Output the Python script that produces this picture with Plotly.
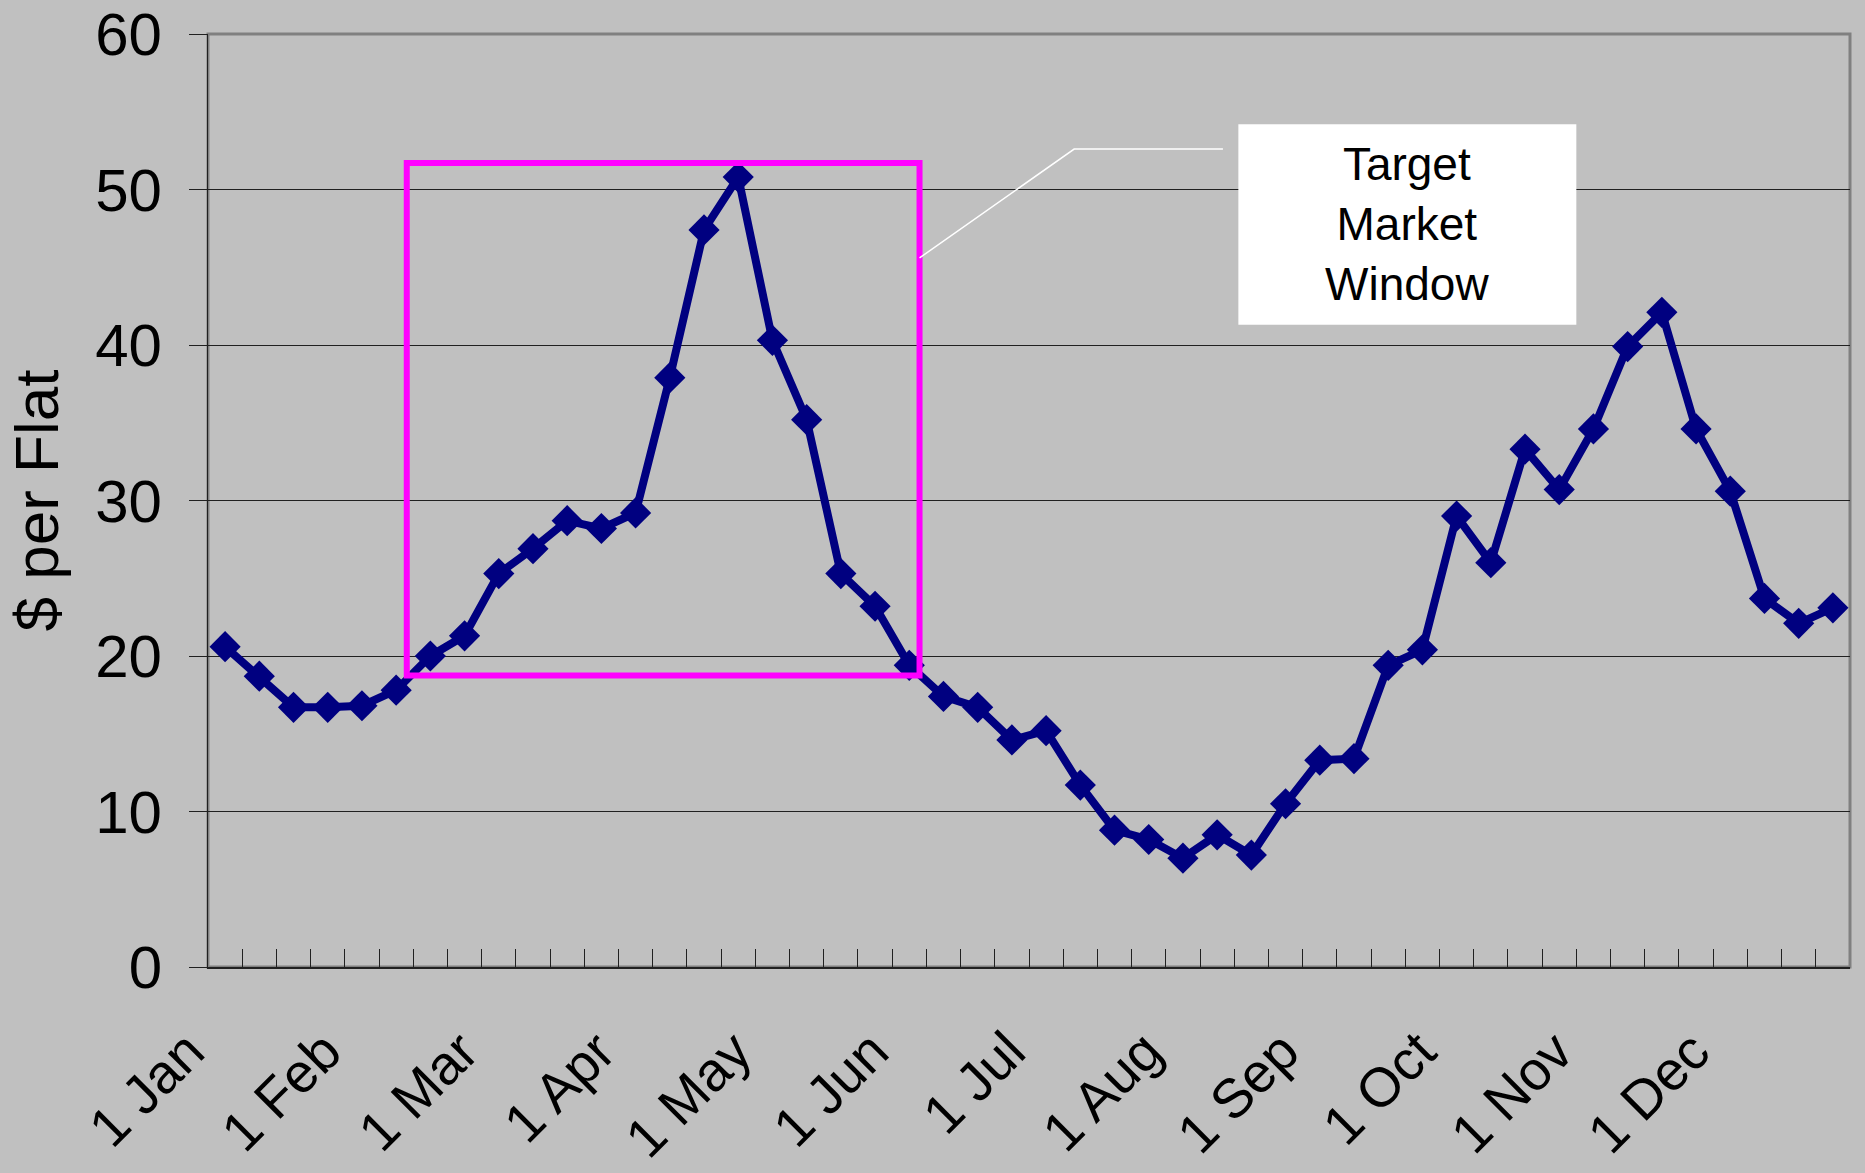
import plotly.graph_objects as go

# ---- data ----
month_labels = ["1 Jan", "1 Feb", "1 Mar", "1 Apr", "1 May", "1 Jun",
                "1 Jul", "1 Aug", "1 Sep", "1 Oct", "1 Nov", "1 Dec"]
weeks_per_month = 4
price = [20.6, 18.7, 16.7, 16.7, 16.8, 17.8, 20.0, 21.3,
         25.3, 26.9, 28.7, 28.2, 29.2, 37.9, 47.4, 50.8,
         40.3, 35.2, 25.3, 23.2, 19.4, 17.4, 16.7, 14.6,
         15.2, 11.7, 8.8, 8.2, 7.0, 8.5, 7.2, 10.5,
         13.3, 13.4, 19.4, 20.4, 29.0, 26.0, 33.3, 30.7,
         34.6, 39.9, 42.1, 34.6, 30.6, 23.7, 22.1, 23.1]
y_ticks = [0, 10, 20, 30, 40, 50, 60]
annotation_text = "Target<br>Market<br>Window"
y_title = "$ per Flat"

n = len(price)
xs = list(range(n))
boundaries = [i - 0.5 for i in range(n + 1)]
tick_text = [month_labels[i // weeks_per_month] if (i % weeks_per_month == 0 and i // weeks_per_month < len(month_labels)) else ""
             for i in range(n + 1)]

BG = "#C0C0C0"
NAVY = "#000080"
FONT = "Liberation Sans, Arial, sans-serif"

fig = go.Figure()
fig.add_trace(go.Scatter(
    x=xs, y=price, mode="lines+markers",
    line=dict(color=NAVY, width=8),
    marker=dict(symbol="diamond", size=24, color=NAVY),
    showlegend=False, hoverinfo="skip",
))

shapes = [
    # plot area border (gray)
    dict(type="rect", xref="x domain", yref="y domain", x0=0, x1=1, y0=0, y1=1,
         line=dict(color="#808080", width=3), layer="below"),
    # target window rectangle
    dict(type="rect", xref="x", yref="y", x0=5.31, x1=20.3, y0=18.75, y1=51.7,
         line=dict(color="#FF00FF", width=6), fillcolor="rgba(0,0,0,0)", layer="above"),
    # label box
    dict(type="rect", xref="x", yref="y", x0=29.62, x1=39.5, y0=41.3, y1=54.2,
         line=dict(width=0), fillcolor="white", layer="above"),
    # leader line
    dict(type="path", xref="x", yref="y",
         path="M 20.3,45.6 L 24.82,52.6 L 29.17,52.6",
         line=dict(color="white", width=1.5), layer="above"),
]

fig.update_layout(
    width=1865, height=1173,
    paper_bgcolor=BG, plot_bgcolor=BG,
    margin=dict(l=208, r=15, t=34, b=206),
    font=dict(family=FONT, color="black", size=60),
    shapes=shapes,
    annotations=[dict(
        x=(29.62 + 39.5) / 2, y=(41.3 + 54.2) / 2, xref="x", yref="y",
        text=annotation_text, showarrow=False,
        font=dict(family=FONT, size=46, color="black"),
        align="center", xanchor="center", yanchor="middle",
    )],
)

fig.update_xaxes(
    range=[-0.5, n - 0.5], tickmode="array", tickvals=boundaries, ticktext=tick_text,
    tickangle=-45, ticks="inside", ticklen=18, tickcolor="#202020", tickwidth=1,
    showgrid=False, zeroline=False, showline=True, linecolor="#202020", linewidth=2,
    tickfont=dict(size=55), ticklabelstandoff=28, ticklabelshift=-20,
    automargin=False,
)
fig.update_yaxes(
    range=[0, 60], tickmode="array", tickvals=y_ticks,
    ticks="outside", ticklen=18, tickcolor="#202020", tickwidth=1,
    showgrid=True, gridcolor="#202020", gridwidth=1, zeroline=False,
    showline=True, linecolor="#202020", linewidth=1,
    tickfont=dict(size=60), ticklabelstandoff=15, ticklabeloverflow="allow",
    title=dict(text=y_title, font=dict(size=62), standoff=16),
    automargin=False,
)

fig.write_html("out.html", config={"displayModeBar": False},
               post_script="document.body.style.margin='0';document.body.style.overflow='hidden';")
